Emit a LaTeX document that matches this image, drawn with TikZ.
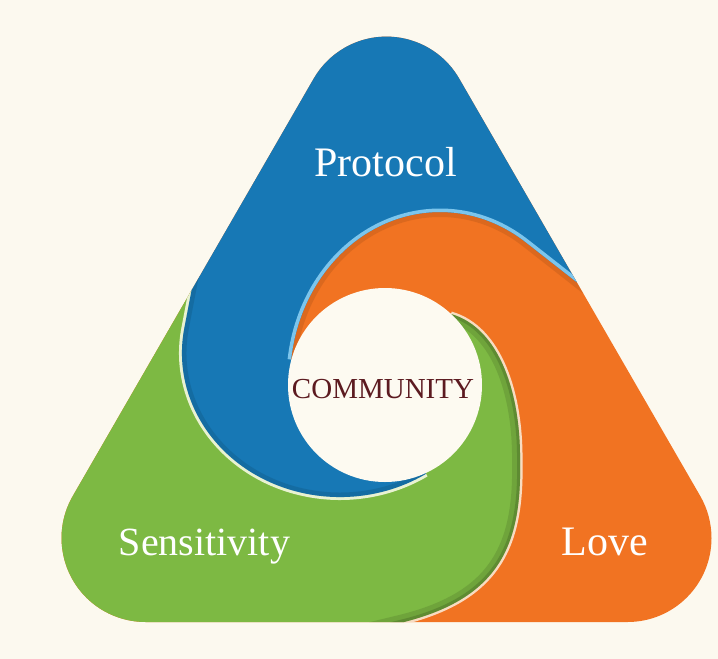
\documentclass[tikz,border=0pt]{standalone}
\usepackage{fontspec}
\setmainfont{Liberation Serif}
\definecolor{bgc}{HTML}{FCF9EF}
\definecolor{blu}{HTML}{1778B5}
\definecolor{org}{HTML}{F17322}
\definecolor{grn}{HTML}{7DB943}
\definecolor{lblu}{HTML}{7CC5EC}
\definecolor{pgrn}{HTML}{E9F2D2}
\definecolor{pch}{HTML}{F8DCC2}
\definecolor{mrn}{HTML}{5C1A20}
\definecolor{wht}{HTML}{FDFAF1}
\newcommand{\pathTri}{(145.5,622) -- (627.5,622) arc[start angle=90,end angle=-30,radius=84] -- (459.2,78.6) arc[start angle=-30,end angle=-150,radius=84] -- (72.8,496) arc[start angle=210,end angle=90,radius=84] -- cycle}
% green / orange edge (from green tip outwards)
\newcommand{\pathGO}{(451,314) .. controls (500,328) and (521,395) .. (520,462) .. controls (522,550) and (495,600) .. (400,623) -- (210,669)}
% blue / green edge (from outside inwards to blue tip)
\newcommand{\pathBGin}{(213,178) -- (184.4,328) arc[start angle=190,end angle=57,x radius=158,y radius=144]}
% blue / green edge (from blue tip outwards)
\newcommand{\pathBGout}{(426,473.8) arc[start angle=57,end angle=190,x radius=158,y radius=144] -- (213,178)}
% orange / blue edge (from outside inwards to orange tip)
\newcommand{\pathOBin}{(620.4,316.4) -- (526,242.4) arc[start angle=305,end angle=187,x radius=150,y radius=168]}
\newcommand{\regGreen}{(385,385) -- \pathGO -- (-60,720) -- (-60,500) -- \pathBGin -- cycle}
\newcommand{\regBlue}{(385,385) -- \pathBGout -- (120,60) -- (386,-80) -- (660,110) -- \pathOBin -- cycle}
\tikzset{
  lbl/.style={anchor=base, text=white, inner sep=0pt, font=\fontsize{42}{50}\selectfont},
}
\begin{document}
\begin{tikzpicture}[x=1pt,y=1pt,yscale=-1]
\useasboundingbox (0,0) rectangle (718,659);
\fill[bgc] (0,0) rectangle (718,659);
\begin{scope}
  \clip \pathTri;
  % orange base
  \fill[org] (0,0) rectangle (718,659);
  % orange shadow along orange/blue edge
  \draw[org!60!black, opacity=0.22, line width=10] \pathOBin;
  % peach highlight on orange side of green edge
  \draw[pch, line width=5] \pathGO;
  % green piece
  \fill[grn] \regGreen;
  \begin{scope}
    \clip \regGreen;
    \draw[grn!45!black, opacity=0.2, line width=16] \pathGO;
    \draw[grn!45!black, opacity=0.3, line width=6] \pathGO;
  \end{scope}
  % pale green highlight on green side of blue edge
  \draw[pgrn, line width=6] \pathBGin;
  % blue piece
  \fill[blu] \regBlue;
  \begin{scope}
    \clip \regBlue;
    \draw[blu!55!black, opacity=0.22, line width=9] \pathBGin;
    \draw[lblu, line width=7] \pathOBin;
  \end{scope}
\end{scope}
% centre circle
\fill[wht] (385,385) circle[radius=97];
% labels
\node[lbl] (protocol) at (385.5,176) {Protocol};
\node[lbl, font=\fontsize{40}{48}\selectfont] (sensitivity) at (204.5,555) {Sensitivity};
\node[lbl] (love) at (604.5,555) {Love};
\node[anchor=base, inner sep=0pt, text=mrn, font=\fontsize{29}{34}\selectfont] (community) at (383,398) {COMMUNITY};
\end{tikzpicture}
\end{document}
